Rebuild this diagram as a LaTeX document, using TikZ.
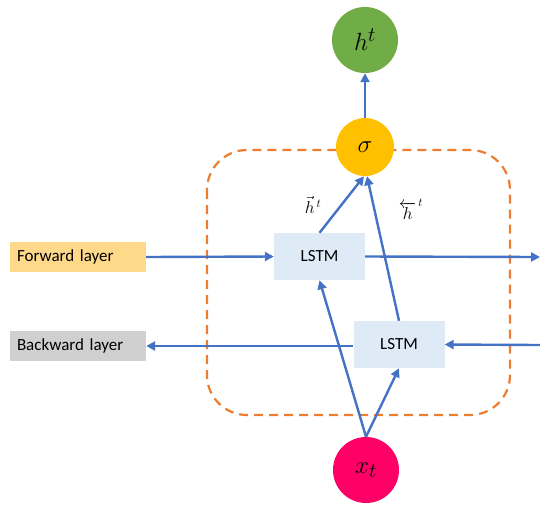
\documentclass[tikz,border=0pt]{standalone}
\usepackage{fontspec}
\setmainfont{Carlito}
\usetikzlibrary{arrows.meta}
\definecolor{lineblue}{HTML}{4472C4}
\definecolor{dashorange}{HTML}{ED7D31}
\definecolor{hgreen}{HTML}{70AD47}
\definecolor{sigyellow}{HTML}{FFC000}
\definecolor{xpink}{HTML}{FF0066}
\definecolor{lstmfill}{HTML}{DEEBF7}
\definecolor{fwdfill}{HTML}{FFD98A}
\definecolor{bwdfill}{HTML}{D0D0D0}
\tikzset{
  conn/.style={draw=lineblue, line width=2.4pt, -{Triangle[width=9pt,length=9pt]}},
  lstmbox/.style={fill=lstmfill, minimum width=91pt, minimum height=47pt, inner sep=0pt, font=\fontsize{17}{19}\selectfont},
  layerbox/.style={minimum width=136pt, minimum height=30pt, inner sep=0pt, text width=122pt, align=left, font=\fontsize{17}{19}\selectfont},
  bubble/.style={circle, inner sep=0pt, font=\fontsize{29}{31}\selectfont}
}
\begin{document}
\begin{tikzpicture}[x=1pt,y=-1pt]
\useasboundingbox (0,0) rectangle (540,504);
% dashed frame
\draw[dashorange, line width=2.2pt, dash pattern=on 9pt off 6pt, rounded corners=40pt] (207,150) rectangle (510,415);
% nodes
\node[bubble, fill=hgreen, minimum size=66pt] (h) at (365,40) {$h^t$};
\node[bubble, fill=sigyellow, minimum size=58pt] (sig) at (365,147) {$\sigma$};
\node[bubble, fill=xpink, minimum size=66pt] (x) at (366,470) {$x_t$};
\node[lstmbox] (l1) at (319.5,256.5) {LSTM};
\node[lstmbox] (l2) at (399,344.5) {LSTM};
\node[layerbox, fill=fwdfill] (fw) at (78,257) {Forward layer};
\node[layerbox, fill=bwdfill] (bw) at (78,346) {Backward layer};
\coordinate (fr) at (540,257);
\coordinate (br) at (540,345);
% labels
\node[font=\fontsize{17}{19}\selectfont] (lf) at (313,205) {$\vec{h}^{\,t}$};
\node[font=\fontsize{17}{19}\selectfont] (lb) at (411,209) {$\overleftarrow{h}^{\,t}$};
% connectors
\draw[conn] (fw.east) -- (l1.west);
\draw[conn] (l1.east) -- (fr);
\draw[conn] (br) -- (l2.east);
\draw[conn] (l2.west |- bw.east) -- (bw.east);
\draw[conn] (x.north) -- (l1.south);
\draw[conn] (x.north) -- (l2.south);
\draw[conn] (l1.north) -- ([xshift=-1pt]sig.south);
\draw[conn] (l2.north) -- ([xshift=2pt]sig.south);
\draw[conn] (sig.north) -- (h.south);
\end{tikzpicture}
\end{document}
